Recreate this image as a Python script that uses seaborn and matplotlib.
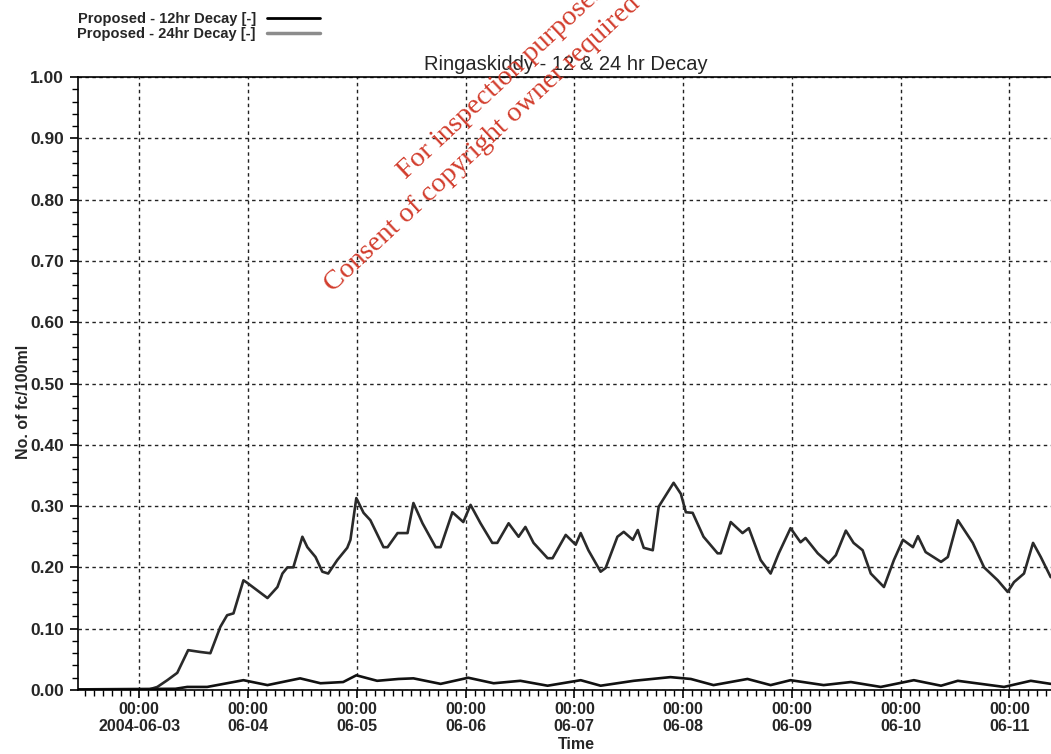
import seaborn as sns
import pandas as pd
import numpy as np
import matplotlib
matplotlib.use('Agg')
import matplotlib.pyplot as plt
import matplotlib.dates as mdates
import matplotlib.ticker as ticker
from matplotlib.lines import Line2D
from matplotlib import font_manager

# hours after 2004-06-03 00:00
hours_24=[-13.5,1.8,4.0,6.2,8.4,10.8,13.5,15.7,17.9,19.4,20.8,23.0,23.8,28.3,30.5,31.6,32.7,34.0,
          36.0,37.1,38.9,40.4,41.7,43.7,45.9,46.6,47.9,49.5,51.0,53.9,54.8,57.0,59.2,60.5,62.5,
          65.4,66.5,69.1,71.5,73.1,75.3,77.9,79.0,81.5,83.7,85.2,87.0,90.1,91.2,94.1,96.3,97.4,
          99.1,101.8,102.9,105.5,106.9,108.9,110.0,111.3,113.3,114.6,117.9,119.5,120.6,122.1,
          124.5,127.6,128.3,130.5,133.1,134.5,137.1,139.3,141.1,143.7,145.9,147.0,149.7,152.1,
          153.7,155.9,157.6,159.6,161.4,164.3,166.5,168.5,170.7,171.8,173.5,176.9,178.4,180.6,
          183.9,186.4,189.4,191.6,193.0,195.2,197.2,198.9,201.1]
decay_24=[0.0,0.0,0.005,0.016,0.028,0.065,0.062,0.060,0.103,0.122,0.125,0.179,0.175,0.150,0.168,
          0.190,0.200,0.200,0.250,0.233,0.217,0.193,0.190,0.212,0.232,0.245,0.313,0.289,0.277,
          0.233,0.233,0.256,0.256,0.305,0.272,0.233,0.233,0.290,0.274,0.302,0.272,0.240,0.240,
          0.272,0.250,0.266,0.240,0.215,0.215,0.253,0.237,0.256,0.228,0.193,0.199,0.250,0.258,
          0.245,0.261,0.232,0.228,0.299,0.338,0.320,0.290,0.289,0.250,0.223,0.223,0.274,0.256,
          0.264,0.212,0.190,0.223,0.264,0.241,0.248,0.223,0.207,0.220,0.260,0.240,0.228,0.190,
          0.168,0.212,0.245,0.233,0.251,0.225,0.209,0.217,0.277,0.240,0.200,0.179,0.160,0.176,
          0.190,0.240,0.217,0.184]

hours_12=[-13.5,8.0,10.6,15.0,23.0,28.3,35.5,40.0,45.0,47.9,52.5,57.2,60.5,66.5,72.6,78.2,84.1,
          90.1,97.4,101.8,109.1,117.2,121.7,126.7,134.2,139.3,143.7,151.0,157.0,163.6,170.9,
          176.9,180.6,190.8,196.7,201.1]
decay_12=[0.001,0.002,0.005,0.005,0.016,0.008,0.019,0.011,0.013,0.024,0.015,0.018,0.019,0.010,
          0.020,0.011,0.015,0.007,0.016,0.007,0.015,0.021,0.018,0.008,0.018,0.008,0.016,0.008,
          0.013,0.005,0.016,0.007,0.015,0.005,0.015,0.010]

labels=['Proposed - 12hr Decay [-]','Proposed - 24hr Decay [-]']
title='Ringaskiddy - 12 & 24 hr Decay'
y_ticks=[0.0,0.1,0.2,0.3,0.4,0.5,0.6,0.7,0.8,0.9,1.0]

start=pd.Timestamp('2004-06-03')
df12=pd.DataFrame({'time':start+pd.to_timedelta(hours_12,unit='h'),'value':decay_12})
df24=pd.DataFrame({'time':start+pd.to_timedelta(hours_24,unit='h'),'value':decay_24})

sns.set_theme(style='white')
names={f.name for f in font_manager.fontManager.ttflist}
narrow='Liberation Sans Narrow' if 'Liberation Sans Narrow' in names else 'Liberation Sans'
plt.rcParams['font.family']=['Liberation Sans','DejaVu Sans']

fig=plt.figure(figsize=(10.51,7.54),dpi=100)
ax=fig.add_axes([78/1051,64/754,975/1051,613/754])

sns.lineplot(data=df24,x='time',y='value',ax=ax,color='#2a2a2a',lw=1.9,estimator=None,sort=False)
sns.lineplot(data=df12,x='time',y='value',ax=ax,color='#111111',lw=1.9,estimator=None,sort=False)

ax.set_xlim(start-pd.Timedelta(hours=13.5),start+pd.Timedelta(hours=201.6))
ax.set_ylim(0,1)

# axes styling
for s in ['left','bottom','top']:
    ax.spines[s].set_color('black')
    ax.spines[s].set_linewidth(1.2)
ax.spines['right'].set_visible(False)

ax.xaxis.set_major_locator(mdates.DayLocator())
ax.xaxis.set_minor_locator(mdates.HourLocator(byhour=range(0,24,2)))
first=mdates.date2num(start)
def fmt_date(v,pos):
    d=mdates.num2date(v)
    if abs(v-first)<1e-6:
        return '00:00\n'+d.strftime('%Y-%m-%d')
    return '00:00\n'+d.strftime('%m-%d')
ax.xaxis.set_major_formatter(ticker.FuncFormatter(fmt_date))
ax.set_yticks(y_ticks)
ax.yaxis.set_minor_locator(ticker.MultipleLocator(0.02))
ax.yaxis.set_major_formatter(ticker.FormatStrFormatter('%.2f'))

ax.tick_params(axis='both',which='major',direction='out',length=6,width=1.2,color='black',bottom=True,left=True)
ax.tick_params(axis='both',which='minor',direction='out',length=4,width=1,color='black',bottom=True,left=True)
ax.tick_params(axis='y',pad=4)
ax.tick_params(axis='x',pad=3)
for lab in ax.get_yticklabels():
    lab.set_fontsize(12.5)
    lab.set_fontweight('bold')
for lab in ax.get_xticklabels():
    lab.set_fontsize(11.5)
    lab.set_fontweight('bold')
    lab.set_family(narrow)
    lab.set_linespacing(1.15)

ax.grid(True,which='major',linestyle=(0,(2.5,2.5)),lw=1.0,color='#222222')

ax.set_title(title,fontsize=14.5,pad=5)
ax.set_xlabel('Time',fontsize=11.5,fontweight='bold',family=narrow)
ax.xaxis.set_label_coords((575-78)/973,-0.077)
ax.set_ylabel('No. of fc/100ml',fontsize=11.5,fontweight='bold')
ax.yaxis.set_label_coords(-0.048,0.47)

handles=[Line2D([],[],color='black',lw=2),Line2D([],[],color='#8c8c8c',lw=2.5)]
ax.legend(handles,labels,loc='upper left',bbox_to_anchor=(70/1051,1-5/754),bbox_transform=fig.transFigure,
          frameon=False,markerfirst=False,handlelength=3.6,handletextpad=0.8,labelspacing=0.05,
          borderpad=0,prop={'size':10.5,'weight':'bold'})

# scanned watermark
fig.text(406/1051,1-180/754,'For inspection purposes only.',rotation=43,rotation_mode='anchor',
         ha='left',va='baseline',color='#d23c2c',fontsize=20.5,family='Liberation Serif')
fig.text(333/1051,1-293/754,'Consent of copyright owner required for any other use.',rotation=43,
         rotation_mode='anchor',ha='left',va='baseline',color='#d23c2c',fontsize=20.5,family='Liberation Serif')

fig.savefig('out.png',dpi=100)
